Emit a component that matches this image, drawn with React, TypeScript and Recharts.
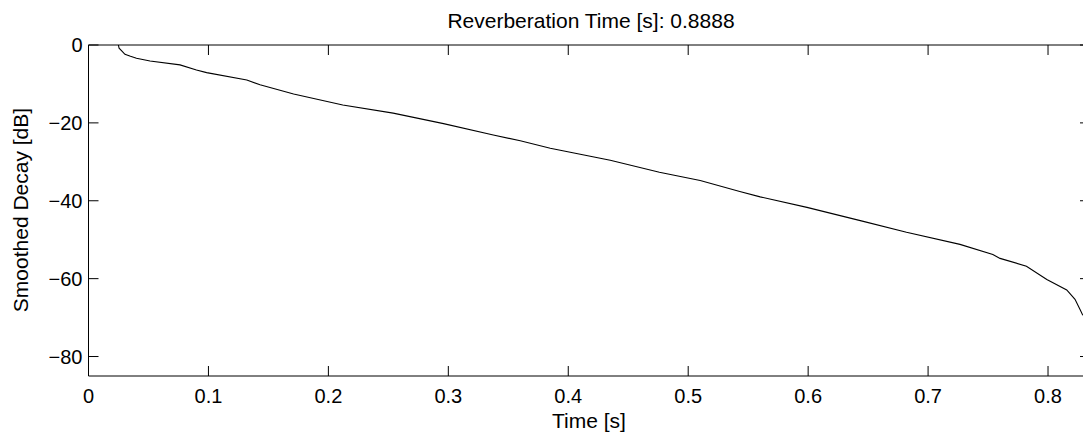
import React from 'react';
import { LineChart, Line, XAxis, YAxis } from 'recharts';

const timeValues = [
  0.0249, 0.0255, 0.0277, 0.0304, 0.035, 0.04, 0.0513, 0.0763, 0.09, 0.0985,
  0.132, 0.143, 0.171, 0.212, 0.254, 0.296, 0.3375, 0.36, 0.385,
  0.435, 0.476, 0.51, 0.543, 0.56, 0.599, 0.646, 0.682, 0.7266,
  0.754, 0.76, 0.782, 0.799, 0.8156, 0.8225, 0.8267, 0.829,
];
const decayValues = [
  0, -0.8, -1.5, -2.4, -2.9, -3.4, -4.1, -5.1, -6.4, -7.1,
  -9.0, -10.2, -12.6, -15.4, -17.5, -20.2, -23.1, -24.6, -26.5,
  -29.6, -32.7, -34.8, -37.6, -39.0, -41.7, -45.3, -48.1, -51.2,
  -53.8, -54.8, -56.8, -60.2, -62.9, -65.3, -67.9, -69.4,
];
const xTicks = [0, 0.1, 0.2, 0.3, 0.4, 0.5, 0.6, 0.7, 0.8];
const yTicks = [-80, -60, -40, -20, 0];
const xDomain = [0, 0.835];
const yDomain = [-85, 0];
const titleText = 'Reverberation Time [s]: 0.8888';
const xLabelText = 'Time [s]';
const yLabelText = 'Smoothed Decay [dB]';

const data = timeValues.map((t, i) => ({ t, v: decayValues[i] }));

const FONT = '"Liberation Sans", Arial, Helvetica, sans-serif';
const TICK_LEN = 10;
const fmtY = (v: number) => (v < 0 ? '\u2212' + Math.abs(v) : String(v));

const BottomTick = (props: any) => {
  const { x, y, payload } = props;
  return (
    <g>
      <line x1={x} x2={x} y1={y} y2={y - TICK_LEN} stroke="#000" strokeWidth={1} />
      <text x={x} y={y + 27} textAnchor="middle" fontSize={20} fontFamily={FONT} fill="#000">
        {String(payload.value)}
      </text>
    </g>
  );
};
const TopTick = (props: any) => {
  const { x, y } = props;
  return <line x1={x} x2={x} y1={y} y2={y + TICK_LEN} stroke="#000" strokeWidth={1} />;
};
const LeftTick = (props: any) => {
  const { x, y, payload } = props;
  return (
    <g>
      <line x1={x} x2={x + TICK_LEN} y1={y} y2={y} stroke="#000" strokeWidth={1} />
      <text x={x - 6} y={y} dy="0.36em" textAnchor="end" fontSize={20} fontFamily={FONT} fill="#000">
        {fmtY(payload.value)}
      </text>
    </g>
  );
};
const RightTick = (props: any) => {
  const { x, y } = props;
  return <line x1={x} x2={x - TICK_LEN} y1={y} y2={y} stroke="#000" strokeWidth={1} />;
};

export default function App() {
  return (
    <div style={{ position: 'absolute', left: 0, top: 0, width: 1083, height: 432, overflow: 'hidden', background: '#fff' }}>
      <LineChart
        width={1100}
        height={432}
        data={data}
        margin={{ top: 44, right: 9, bottom: 26, left: 28.5 }}
      >
        <XAxis
          xAxisId="b"
          dataKey="t"
          type="number"
          domain={xDomain}
          ticks={xTicks}
          orientation="bottom"
          height={30}
          tickSize={0}
          tickMargin={0}
          tickLine={false}
          axisLine={{ stroke: '#000', strokeWidth: 1 }}
          tick={BottomTick}
          allowDataOverflow
          interval={0}
        />
        <XAxis
          xAxisId="t"
          dataKey="t"
          type="number"
          domain={xDomain}
          ticks={xTicks}
          orientation="top"
          height={1}
          tickSize={0}
          tickMargin={0}
          tickLine={false}
          axisLine={{ stroke: '#000', strokeWidth: 1 }}
          tick={TopTick}
          allowDataOverflow
          interval={0}
        />
        <YAxis
          yAxisId="l"
          type="number"
          domain={yDomain}
          ticks={yTicks}
          orientation="left"
          width={60}
          tickSize={0}
          tickMargin={0}
          tickLine={false}
          axisLine={{ stroke: '#000', strokeWidth: 1 }}
          tick={LeftTick}
          allowDataOverflow
          interval={0}
        />
        <YAxis
          yAxisId="r"
          type="number"
          domain={yDomain}
          ticks={yTicks}
          orientation="right"
          width={1}
          tickSize={0}
          tickMargin={0}
          tickLine={false}
          axisLine={{ stroke: '#000', strokeWidth: 1 }}
          tick={RightTick}
          allowDataOverflow
          interval={0}
        />
        <Line
          xAxisId="b"
          yAxisId="l"
          dataKey="v"
          type="linear"
          stroke="#000"
          strokeWidth={1.1}
          dot={false}
          isAnimationActive={false}
        />
        <text x={591} y={28} textAnchor="middle" fontSize={21} fontFamily={FONT} fill="#000">
          {titleText}
        </text>
        <text x={589} y={428} textAnchor="middle" fontSize={21} fontFamily={FONT} fill="#000">
          {xLabelText}
        </text>
        <text
          x={28}
          y={210}
          textAnchor="middle"
          fontSize={21}
          fontFamily={FONT}
          fill="#000"
          transform="rotate(-90, 28, 210)"
        >
          {yLabelText}
        </text>
      </LineChart>
    </div>
  );
}
